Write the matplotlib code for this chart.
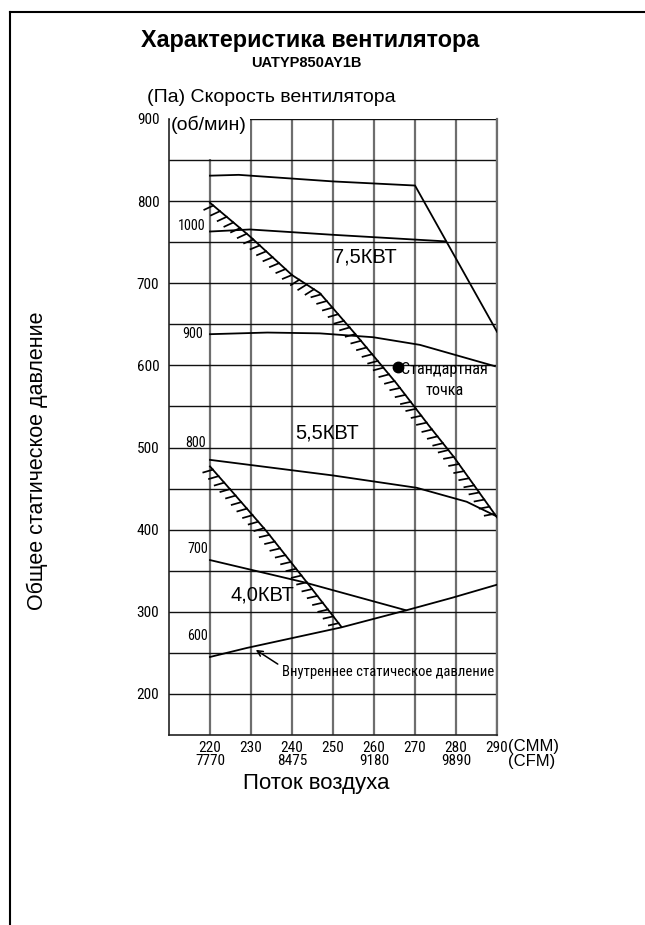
import matplotlib
matplotlib.use('Agg')
import matplotlib.pyplot as plt
import matplotlib.patheffects as pe
from matplotlib import font_manager as fm
from matplotlib.patches import Rectangle
from matplotlib.lines import Line2D

fonts = fm.fontManager.ttflist
names = {f.name for f in fonts}
MAIN = 'Liberation Sans' if 'Liberation Sans' in names else 'DejaVu Sans'
NARROW, NSTRETCH, NARROW_OK = MAIN, 'normal', False
for cand in ['Liberation Sans Narrow', 'Arial Narrow', 'Roboto Condensed',
             'Open Sans Condensed', 'Noto Sans Condensed', 'DejaVu Sans Condensed']:
    if cand in names:
        NARROW, NARROW_OK = cand, True
        break
if not NARROW_OK:
    for f in fonts:
        if f.name in ('Noto Sans', 'DejaVu Sans', 'Open Sans', 'Roboto') and \
                f.stretch in ('condensed', 'semi-condensed', 'extra-condensed', 62.5, 75, 87.5) \
                and f.weight in (400, 'normal', 'regular'):
            NARROW, NSTRETCH, NARROW_OK = f.name, 'condensed', True
            break
S = 1.0 if NARROW_OK else 0.85

# ---------------- data ----------------
cmm_ticks = [220, 230, 240, 250, 260, 270, 280, 290]
cfm_labels = ['7770', '', '8475', '', '9180', '', '9890', '']
y_ticks = [200, 300, 400, 500, 600, 700, 800, 900]

top_x = [220, 227, 250, 270, 290]
top_y = [831, 832, 824, 819, 641]
rpm1000_x = [220, 229.75, 250, 277.5]
rpm1000_y = [763, 765.5, 759, 751]
rpm900_x = [220, 234, 246.8, 259.8, 271.2, 289.5]
rpm900_y = [638, 640, 639, 634.3, 625, 599]
rpm800_x = [220, 250, 270.4, 282.6, 290]
rpm800_y = [485, 466, 451, 434, 416]
rpm700_x = [220, 243.2, 267.7]
rpm700_y = [363, 335.6, 302]
isp_x = [220, 229, 252, 268, 279, 290]
isp_y = [245, 256, 281, 302, 317, 333]
lim_upper_x = [220, 229.75, 240, 246.8, 255.3, 265.5, 273.5, 279.4, 290]
lim_upper_y = [798, 757, 710, 688, 639, 578, 526, 489, 415]
lim_lower_x = [220, 225.7, 233.8, 243.6, 252]
lim_lower_y = [477, 444.6, 398, 336, 282]
std_x, std_y = 265.8, 598

rpm_labels = ['1000', '900', '800', '700', '600']
rpm_label_x = [215.5, 215.7, 216.6, 217, 217]
rpm_label_y = [769.6, 638, 506, 376.5, 270.6]
kw_labels = ['7,5КВТ', '5,5КВТ', '4,0КВТ']
kw_x = [257.8, 248.5, 232.8]
kw_y = [732, 517.7, 320]

# ---------------- figure ----------------
W, H = 645, 925
fig = plt.figure(figsize=(W / 100, H / 100), dpi=100)
ax = fig.add_axes([169 / W, 1 - 735 / H, (497 - 169) / W, (735 - 119) / H])
ax.set_xlim(210, 290)
ax.set_ylim(150, 900)

# grid
for x in cmm_ticks:
    ax.axvline(x, color='#6e6e6e', lw=1.6, zorder=1.2)
for y in range(200, 901, 50):
    ax.axhline(y, color='#111111', lw=1.0, zorder=1.2)

# white box behind "(об/мин)"
ax.add_patch(Rectangle((210.25, 851), 19.6, 60, facecolor='white', edgecolor='none',
                       zorder=1.5, clip_on=False))

ax.spines['top'].set_visible(False)
for s in ['left', 'bottom']:
    ax.spines[s].set_linewidth(1.2)
    ax.spines[s].set_color('#222222')
ax.spines['right'].set_color('#6e6e6e')
ax.spines['right'].set_linewidth(1.6)

ax.set_xticks(cmm_ticks)
ax.set_xticklabels([f'{c}\n{f}' if f else f'{c}' for c, f in zip(cmm_ticks, cfm_labels)],
                   va='top')
ax.set_yticks(y_ticks)
ax.set_yticklabels([str(v) for v in y_ticks])
ax.tick_params(length=0)
for lab in ax.get_xticklabels():
    lab.set_family(NARROW)
    lab.set_stretch(NSTRETCH)
    lab.set_fontsize(11 * S)
    lab.set_linespacing(0.98)
    lab.set_verticalalignment('top')
for lab in ax.get_yticklabels():
    lab.set_family(NARROW)
    lab.set_stretch(NSTRETCH)
    lab.set_fontsize(11 * S)
ax.xaxis.set_tick_params(pad=4)
ax.yaxis.set_tick_params(pad=7)

lk = dict(color='black', lw=1.3, zorder=3, solid_joinstyle='miter')
ax.plot(top_x, top_y, **lk)
ax.plot(rpm1000_x, rpm1000_y, **lk)
ax.plot(rpm900_x, rpm900_y, **lk)
ax.plot(rpm800_x, rpm800_y, **lk)
ax.plot(rpm700_x, rpm700_y, **lk)
ax.plot(isp_x, isp_y, **lk)

ticked = [pe.withTickedStroke(angle=-115, spacing=6.2, length=1.15, linewidth=1.25)]
ax.plot(lim_upper_x, lim_upper_y, path_effects=ticked, **lk)
ax.plot(lim_lower_x, lim_lower_y, path_effects=ticked, **lk)

nk = dict(family=NARROW, stretch=NSTRETCH, zorder=5)
ax.plot([std_x], [std_y], 'o', color='black', ms=7.5, zorder=4)
ax.text(std_x + 0.9, std_y - 3.5, 'Стандартная', fontsize=11.6 * S,
        ha='left', va='center', **nk)
ax.text(277.3, 570, 'точка', fontsize=11.6 * S, ha='center', va='center', **nk)

for t, x, y in zip(rpm_labels, rpm_label_x, rpm_label_y):
    ax.text(x, y, t, fontsize=10.2 * S, ha='center', va='center', **nk)
for t, x, y in zip(kw_labels, kw_x, kw_y):
    ax.text(x, y, t, family=MAIN, fontsize=14.5, ha='center', va='center', zorder=5)

ax.text(237.6, 227.3, 'Внутреннее статическое давление', fontsize=10.5 * S,
        ha='left', va='center', **nk)
ax.annotate('', xy=(230.6, 255.5), xytext=(237.1, 234.5),
            arrowprops=dict(arrowstyle='->', lw=1.1, color='black', mutation_scale=10),
            zorder=5)

ax.text(219.6, 893, '(об/мин)', family=MAIN, fontsize=14, ha='center', va='center',
        zorder=5)

# figure texts
fig.text(310 / W, 1 - 40 / H, 'Характеристика вентилятора', family=MAIN, weight='bold',
         fontsize=16.8, ha='center', va='center')
fig.text(306 / W, 1 - 63 / H, 'UATYP850AY1B', family=MAIN, weight='bold',
         fontsize=10.5, ha='center', va='center')
fig.text(147 / W, 1 - 98 / H, '(Па) Скорость вентилятора', family=MAIN,
         fontsize=14, ha='left', va='center')
fig.text(37 / W, 1 - 461 / H, 'Общее статическое давление', family=MAIN,
         fontsize=15.5, ha='center', va='center', rotation=90)
fig.text(316 / W, 1 - 783 / H, 'Поток воздуха', family=MAIN,
         fontsize=16, ha='center', va='center')
fig.text(508 / W, 1 - 746.5 / H, '(CMM)', family=MAIN, fontsize=12, ha='left', va='center')
fig.text(508 / W, 1 - 761.5 / H, '(CFM)', family=MAIN, fontsize=12, ha='left', va='center')

# page frame
fig.add_artist(Line2D([9.5 / W, 9.5 / W], [0, 1 - 12 / H], transform=fig.transFigure,
                      color='black', lw=1.5))
fig.add_artist(Line2D([9.5 / W, 1], [1 - 12 / H, 1 - 12 / H], transform=fig.transFigure,
                      color='black', lw=1.5))

fig.savefig('out.png', dpi=100, facecolor='white')
